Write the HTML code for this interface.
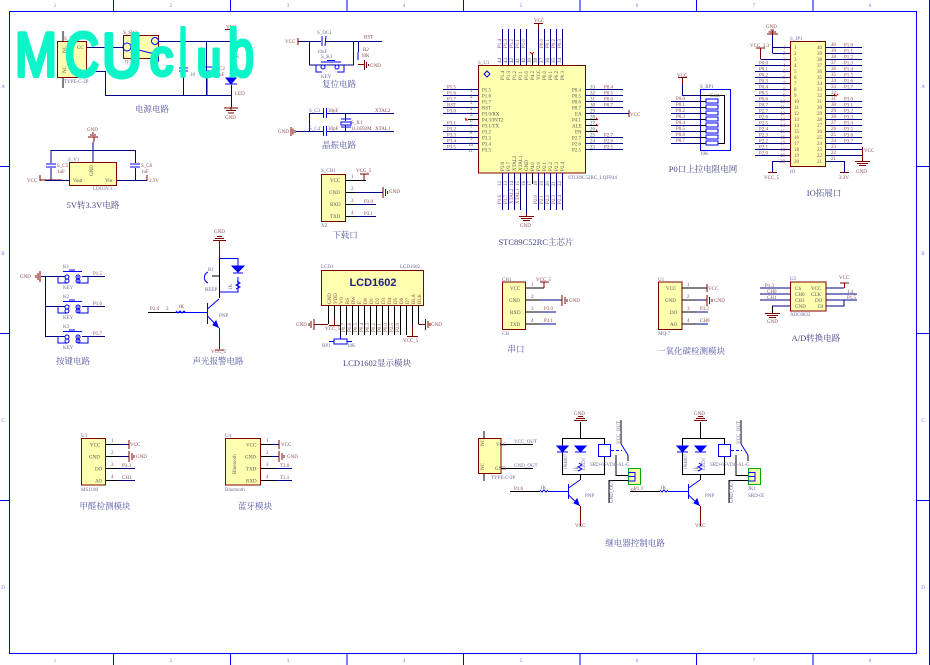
<!DOCTYPE html>
<html><head><meta charset="utf-8"><style>
html,body{margin:0;padding:0;background:#fff;width:930px;height:665px;overflow:hidden}
svg{display:block;filter:blur(.35px)}
text{font-family:"Liberation Serif","Noto Serif CJK SC",serif;font-size:5px;fill:#8a4a4a}
.n text,text.n{fill:#6a6a9a}
.t{font-size:8.5px;fill:#5555a5;text-anchor:middle}
.z{fill:#7777ee;font-size:5px;text-anchor:middle}
.d{fill:#555}
path,rect,circle{fill:none}
.w path{stroke:#000088;stroke-width:1}
.m path{stroke:#800000;stroke-width:1}
.k path{stroke:#000;stroke-width:1}
.b path,.b circle{stroke:#0000ff;stroke-width:1}
.c{fill:#ffffb0;stroke:#800000;stroke-width:1}
text.q{font-family:"Liberation Sans",sans-serif;fill:#0cf5c8;stroke:#0cf5c8;stroke-width:4;stroke-linejoin:round;stroke-linecap:round}
</style></head><body>
<svg width="930" height="665" viewBox="0 0 930 665" xmlns="http://www.w3.org/2000/svg">
<rect width="930" height="665" style="fill:#fff"/>
<g class="b"><path style="stroke-width:1" d="M9.5 11.5H916.5V653.5H9.5ZM929.5 0V665M113.5 0V11M230.5 0V11M347 0V11M463.5 0V11M580 0V11M696.5 0V11M813 0V11M113.5 654V665M230.5 654V665M347 654V665M463.5 654V665M580 654V665M696.5 654V665M813 654V665M0 166.5H9M0 333.5H9M0 500.5H9M917 166.5H929M917 333.5H929M917 500.5H929"/></g>
<g><text class="z" x="55" y="7">1</text><text class="z" x="171" y="7">2</text><text class="z" x="288" y="7">3</text><text class="z" x="404" y="7">4</text><text class="z" x="521" y="7">5</text><text class="z" x="637" y="7">6</text><text class="z" x="754" y="7">7</text><text class="z" x="870" y="7">8</text>
<text class="z" x="55" y="662">1</text><text class="z" x="171" y="662">2</text><text class="z" x="288" y="662">3</text><text class="z" x="404" y="662">4</text><text class="z" x="521" y="662">5</text><text class="z" x="637" y="662">6</text><text class="z" x="754" y="662">7</text><text class="z" x="870" y="662">8</text>
<text class="z" x="3" y="88">A</text><text class="z" x="3" y="255">B</text><text class="z" x="3" y="422">C</text><text class="z" x="3" y="589">D</text>
<text class="z" x="923" y="88">A</text><text class="z" x="923" y="255">B</text><text class="z" x="923" y="422">C</text><text class="z" x="923" y="589">D</text></g>

<!-- power -->
<rect class="c" x="57.5" y="41.5" width="29" height="36"/><rect class="c" x="123.5" y="35.5" width="35" height="23"/>
<g class="w"><path d="M87 47.5H123M158 41.5H231M206.5 41V95M183.5 41V68M183.5 71V95M87 71.5H105.5V95.5H232M231.5 85V107M207 71V95"/></g>
<g class="k"><path d="M63 31V41M63 78V88"/></g>
<g class="m"><path d="M225 29.5H236M231 30V72M231 107V110M224 108H238M226 110.5H236M228 113H234"/></g>
<g class="b"><circle cx="127" cy="47" r="4"/><circle cx="155" cy="41" r="3.5"/><circle cx="155" cy="60" r="3.5"/><path d="M130 48L155 54M155 60V71M179 68H188M179 71H188M202 67H212M202 71H212"/><path style="fill:#0000ff" d="M226 78H236L231 84ZM225 84H237"/></g>
<text x="64" y="40">S_T1</text><text x="123" y="34">S_SW1</text><text x="124" y="64">开关</text><text x="64" y="83" class="n">TYPE-C-2P</text><text x="77" y="49" class="d">CC</text><text x="66" y="53" class="d" transform="rotate(-90 66 53)">NC</text><text x="66" y="73" class="d" transform="rotate(-90 66 73)">NC</text>
<text x="226" y="28.5">VCC</text><text x="225" y="119">GND</text><text x="190" y="76" class="n">10</text><text x="219" y="70">C2</text><text x="219" y="76">uF</text><text x="233" y="58">1K</text><text x="235" y="95">LED</text>
<text class="t" x="152" y="112">电源电路</text>

<!-- LDO -->
<rect class="c" x="69.5" y="162.5" width="47" height="23"/>
<g class="m"><path d="M94 142V137M88 137H98M90 135H96M92 133H94M40 175V181M40 180H62M147 180.5V175M147 180.5H147"/></g>
<g class="w"><path d="M51.5 150.5H135.5M93 142V162M51 150V163M135.5 150V163M51 168V180M135.5 168V180M117 180.5H147M45 180.5H70"/></g>
<g class="b"><path d="M46 164H56M46 167H56M130 164H140M130 167H140"/></g>
<text x="87" y="131">GND</text><text x="68" y="161" class="n">S_V1</text><text x="57" y="167">S_C5</text><text x="141" y="167">S_C6</text><text x="57" y="173">1uF</text><text x="141" y="173">1uF</text><text x="27" y="182">VCC</text><text x="149" y="182">3.3V</text><text x="73" y="182" class="d">Vout</text><text x="105" y="182" class="d">Vin</text><text x="93" y="176" class="d" transform="rotate(-90 93 176)">GND</text><text x="93" y="190" class="n">LDO3V3</text>
<text class="t" x="93" y="208" style="fill:#45458a">5V转3.3V电路</text>

<!-- reset -->
<g class="w"><path d="M298 41.5H321M325 41.5H382M309.5 41V65H353.5V41M358.5 41V52"/></g>
<g class="m"><path d="M298 38V45M358 64.5H364M364.5 60V70M366.5 62V68M368.5 64V66"/></g>
<g class="b"><path d="M322 36V46M326 36L325 46M321 62H341M327 60.5H335M358 52V60M316 65V72H322M344 65V72H337"/><circle cx="323" cy="67" r="2"/><circle cx="337" cy="67" r="2"/></g>
<text x="285" y="43">VCC</text><text x="317" y="34" class="n">S_DC1</text><text x="317" y="53" class="n">10uF</text><text x="321" y="58" class="n">S_K1</text><text x="321" y="78" class="n">KEY</text><text x="363" y="51">R2</text><text x="361" y="57">10K</text><text x="364" y="38.500">RST</text><text x="370" y="67">GND</text>
<text class="t" x="339" y="87">复位电路</text>

<!-- crystal -->
<g class="w"><path d="M309 113.500H323M327 113.500H394M296 131.500H323M327 131.500H394M309.500 113V132M345.500 113V121M345.500 125V131"/></g>
<g class="m"><path d="M291 127V136M293 128.500V134.500M295 130V133"/></g>
<g class="b"><path d="M323.500 108V118M326.500 108V118M323.500 126V136M326.500 126V136M341 119H351M341 122H351V125H341ZM341 127H351"/></g>
<text x="278" y="133">GND</text><text x="309" y="112" class="n">S_C3</text><text x="328" y="112">30pF</text><text x="309" y="130" class="n">S_C4</text><text x="328" y="130">30pF</text><text x="351" y="124">S_X1</text><text x="351" y="130">11.0592M</text><text x="375" y="112">XTAL2</text><text x="375" y="130">XTAL1</text>
<text class="t" x="339" y="148">晶振电路</text>

<!-- downloader -->
<rect class="c" x="321.500" y="174.500" width="24" height="47"/>
<g class="k"><path d="M346 180.500H366M346 192.500H383M346 204.500H376M346 216.500H376"/></g>
<g class="w"><path d="M355 192.500H383M355 204.500H376M355 216.500H376"/></g>
<g class="m"><path d="M364 180.500V174M360 174H369M383 187V198M385.500 189V196M387.500 191V194"/></g>
<text x="321" y="172" class="n">S_CH1</text><text x="330" y="182" class="d">VCC</text><text x="329" y="194" class="d">GND</text><text x="330" y="206" class="d">RXD</text><text x="330" y="218" class="d">TXD</text><text x="351" y="178">1</text><text x="351" y="190">2</text><text x="351" y="202">3</text><text x="351" y="214">4</text><text x="356" y="172">VCC_5</text><text x="389" y="193">GND</text><text x="364" y="203">P3.0</text><text x="364" y="215">P3.1</text><text x="321" y="227" class="n">XZ</text>
<text class="t" x="345" y="238">下载口</text>

<!-- MCU -->
<rect class="c" x="478.500" y="65.500" width="107" height="107.500"/>
<g class="w"><path d="M443 89.500H479M443 95.500H479M443 101.500H479M443 107.500H479M443 113.500H479M443 125.500H479M443 131.500H479M443 137.500H479M443 143.500H479M443 149.500H479M585 89.500H623M585 95.500H623M585 101.500H623M585 107.500H623M585 113.500H629M585 137.500H623M585 143.500H623M585 149.500H623M502.500 29V65M508.500 29V65M514.500 29V65M520.500 29V65M526.500 29V65M538.500 24V65M544.500 29V65M550.500 29V65M556.500 29V65M562.500 29V65M502.500 173V210M508.500 173V210M514.500 173V210M520.500 173V210M526.500 173V216M538.500 173V210M544.500 173V210M550.500 173V210M556.500 173V210M562.500 173V210"/></g>
<g class="k"><path d="M532.500 53V65M468 119.500H479M585 119.500H598M585 125.500H598M585 131.500H598M532.500 173V184"/></g>
<g class="m"><path d="M534 23.500H543M538.500 24V30M526.500 216V214M519 216.500H534M521 218.500H532M523 220.500H530M629 110V117"/></g>
<path d="M530 52L532 54L534 52M465 118L467 120L465 120M596 118L598 120M596 124L598 126M596 130L598 132" style="stroke:#e00000"/>
<g class="b"><path d="M484 74L487 71L490 74L487 77Z" style="stroke:#0000ff"/></g>
<g>
<text x="447" y="88.500">P1.5</text><text x="447" y="94.500">P1.6</text><text x="447" y="100.500">P1.7</text><text x="447" y="106.500">RST</text><text x="447" y="112.500">P3.0</text><text x="447" y="124.500">P3.1</text><text x="447" y="130.500">P3.2</text><text x="447" y="136.500">P3.3</text><text x="447" y="142.500">P3.4</text><text x="447" y="148.500">P3.5</text>
<text x="470" y="92" class="d">1</text><text x="470" y="98" class="d">2</text><text x="470" y="104" class="d">3</text><text x="470" y="110" class="d">4</text><text x="470" y="116" class="d">5</text><text x="470" y="122" class="d">6</text><text x="470" y="128" class="d">7</text><text x="470" y="134" class="d">8</text><text x="470" y="140" class="d">9</text><text x="468" y="146" class="d">10</text><text x="468" y="152" class="d">11</text>
<text x="482" y="91.500" class="d">P1.5</text><text x="482" y="97.500" class="d">P1.6</text><text x="482" y="103.500" class="d">P1.7</text><text x="482" y="109.500" class="d">RST</text><text x="482" y="115.500" class="d">P3.0/RX</text><text x="482" y="121.500" class="d">P4.3/INT2</text><text x="482" y="127.500" class="d">P3.1/TX</text><text x="482" y="133.500" class="d">P3.2</text><text x="482" y="139.500" class="d">P3.3</text><text x="482" y="145.500" class="d">P3.4</text><text x="482" y="151.500" class="d">P3.5</text>
<text x="572" y="91.500" class="d">P0.4</text><text x="572" y="97.500" class="d">P0.5</text><text x="572" y="103.500" class="d">P0.6</text><text x="572" y="109.500" class="d">P0.7</text><text x="575" y="115.500" class="d">EA</text><text x="572" y="121.500" class="d">P4.1</text><text x="572" y="127.500" class="d">ALE</text><text x="575" y="133.500" class="d">EN</text><text x="572" y="139.500" class="d">P2.7</text><text x="572" y="145.500" class="d">P2.6</text><text x="572" y="151.500" class="d">P2.5</text>
<text x="590" y="88.500" class="d">33</text><text x="590" y="94.500" class="d">32</text><text x="590" y="100.500" class="d">31</text><text x="590" y="106.500" class="d">30</text><text x="590" y="112.500" class="d">29</text><text x="590" y="118.500" class="d">28</text><text x="590" y="124.500" class="d">27</text><text x="590" y="130.500" class="d">26</text><text x="590" y="136.500" class="d">25</text><text x="590" y="142.500" class="d">24</text><text x="590" y="148.500" class="d">23</text>
<text x="604" y="88.500">P0.4</text><text x="604" y="94.500">P0.5</text><text x="604" y="100.500">P0.6</text><text x="604" y="106.500">P0.7</text><text x="604" y="136.500">P2.7</text><text x="604" y="142.500">P2.6</text><text x="604" y="148.500">P2.5</text><text x="630" y="116">VCC</text>
<text x="478" y="64" class="n">S_U1</text><text x="568" y="179" class="n">STC89C52RC_LQFP44</text>
<text transform="rotate(-90 504 80)" x="504" y="80" class="d">P1.4</text><text transform="rotate(-90 510 80)" x="510" y="80" class="d">P1.3</text><text transform="rotate(-90 516 80)" x="516" y="80" class="d">P1.2</text><text transform="rotate(-90 522 80)" x="522" y="80" class="d">P1.1</text><text transform="rotate(-90 528 80)" x="528" y="80" class="d">P1.0</text><text transform="rotate(-90 534 80)" x="534" y="80" class="d">P4.2</text><text transform="rotate(-90 540 80)" x="540" y="80" class="d">VCC</text><text transform="rotate(-90 546 80)" x="546" y="80" class="d">P0.0</text><text transform="rotate(-90 552 80)" x="552" y="80" class="d">P0.1</text><text transform="rotate(-90 558 80)" x="558" y="80" class="d">P0.2</text><text transform="rotate(-90 564 80)" x="564" y="80" class="d">P0.3</text>
<text transform="rotate(-90 501 48)" x="501" y="48">P1.4</text><text transform="rotate(-90 507 48)" x="507" y="48">P1.3</text><text transform="rotate(-90 513 48)" x="513" y="48">P1.2</text><text transform="rotate(-90 519 48)" x="519" y="48">P1.1</text><text transform="rotate(-90 525 48)" x="525" y="48">P1.0</text><text transform="rotate(-90 543 48)" x="543" y="48">P0.0</text><text transform="rotate(-90 549 48)" x="549" y="48">P0.1</text><text transform="rotate(-90 555 48)" x="555" y="48">P0.2</text><text transform="rotate(-90 561 48)" x="561" y="48">P0.3</text>
<text transform="rotate(-90 501 63)" x="501" y="63" class="d">44</text><text transform="rotate(-90 507 63)" x="507" y="63" class="d">43</text><text transform="rotate(-90 513 63)" x="513" y="63" class="d">42</text><text transform="rotate(-90 519 63)" x="519" y="63" class="d">41</text><text transform="rotate(-90 525 63)" x="525" y="63" class="d">40</text><text transform="rotate(-90 531 63)" x="531" y="63" class="d">39</text><text transform="rotate(-90 537 63)" x="537" y="63" class="d">38</text><text transform="rotate(-90 543 63)" x="543" y="63" class="d">37</text><text transform="rotate(-90 549 63)" x="549" y="63" class="d">36</text><text transform="rotate(-90 555 63)" x="555" y="63" class="d">35</text><text transform="rotate(-90 561 63)" x="561" y="63" class="d">34</text>
<text x="534" y="22">VCC</text><text x="520" y="227">GND</text>
<text transform="rotate(-90 504 171)" x="504" y="171" class="d">P3.6</text><text transform="rotate(-90 510 171)" x="510" y="171" class="d">P3.7</text><text transform="rotate(-90 516 171)" x="516" y="171" class="d">XTAL2</text><text transform="rotate(-90 522 171)" x="522" y="171" class="d">XTAL1</text><text transform="rotate(-90 528 171)" x="528" y="171" class="d">GND</text><text transform="rotate(-90 534 171)" x="534" y="171" class="d">P4.0</text><text transform="rotate(-90 540 171)" x="540" y="171" class="d">P2.0</text><text transform="rotate(-90 546 171)" x="546" y="171" class="d">P2.1</text><text transform="rotate(-90 552 171)" x="552" y="171" class="d">P2.2</text><text transform="rotate(-90 558 171)" x="558" y="171" class="d">P2.3</text><text transform="rotate(-90 564 171)" x="564" y="171" class="d">P2.4</text>
<text transform="rotate(-90 501 186)" x="501" y="186" class="d">12</text><text transform="rotate(-90 507 186)" x="507" y="186" class="d">13</text><text transform="rotate(-90 513 186)" x="513" y="186" class="d">14</text><text transform="rotate(-90 519 186)" x="519" y="186" class="d">15</text><text transform="rotate(-90 525 186)" x="525" y="186" class="d">16</text><text transform="rotate(-90 531 186)" x="531" y="186" class="d">17</text><text transform="rotate(-90 537 186)" x="537" y="186" class="d">18</text><text transform="rotate(-90 543 186)" x="543" y="186" class="d">19</text><text transform="rotate(-90 549 186)" x="549" y="186" class="d">20</text><text transform="rotate(-90 555 186)" x="555" y="186" class="d">21</text><text transform="rotate(-90 561 186)" x="561" y="186" class="d">22</text>
<text transform="rotate(-90 501 204)" x="501" y="204">P3.6</text><text transform="rotate(-90 507 204)" x="507" y="204">P3.7</text><text transform="rotate(-90 513 204)" x="513" y="204">XTAL2</text><text transform="rotate(-90 519 204)" x="519" y="204">XTAL1</text><text transform="rotate(-90 537 204)" x="537" y="204">P2.0</text><text transform="rotate(-90 543 204)" x="543" y="204">P2.1</text><text transform="rotate(-90 549 204)" x="549" y="204">P2.2</text><text transform="rotate(-90 555 204)" x="555" y="204">P2.3</text><text transform="rotate(-90 561 204)" x="561" y="204">P2.4</text>
</g>
<text class="t" x="536" y="245" style="fill:#45458a">STC89C52RC主芯片</text>

<!-- RP1 -->
<g class="w"><path d="M671 101.500H700M671 107.500H700M671 113.500H700M671 119.500H700M671 125.500H700M671 131.500H700M671 137.500H700M671 143.500H700M682.500 77V95.500H700"/></g>
<g class="m"><path d="M678 77.500H687M682.500 77.500V84"/></g>
<g class="b"><path d="M700.500 89.500H730.500V150.500H700.500ZM706 99H718V103H706ZM706 105H718V109H706ZM706 111H718V115H706ZM706 117H718V121H706ZM706 123H718V127H706ZM706 129H718V133H706ZM706 135H718V139H706ZM706 141H718V145H706Z"/></g>
<g class="k"><path d="M700 95.500H724.500V143.500H718M700 101.500H706M700 107.500H706M700 113.500H706M700 119.500H706M700 125.500H706M700 131.500H706M700 137.500H706M700 143.500H706"/></g>
<text x="677" y="77">VCC</text><text x="700" y="88" class="n">S_RP1</text><text x="676" y="100">P0.0</text><text x="676" y="106">P0.1</text><text x="676" y="112">P0.2</text><text x="676" y="118">P0.3</text><text x="676" y="124">P0.4</text><text x="676" y="130">P0.5</text><text x="676" y="136">P0.6</text><text x="676" y="142">P0.7</text><text x="700" y="155" class="n">10K</text><text x="710" y="97" class="d">Com</text>
<text class="t" x="703" y="172" style="fill:#45458a">P0口上拉电阻电网</text>

<!-- IO -->
<rect class="c" x="790.500" y="41.500" width="35" height="125"/>
<g class="w"><path d="M772.500 47.500H790M772.500 53.500H790M772.500 35V53M760.500 59.500H790M755 65.500H790M755 71.500H790M755 77.500H790M755 83.500H790M755 89.500H790M755 95.500H790M755 101.500H790M755 107.500H790M755 113.500H790M755 119.500H790M755 125.500H790M755 131.500H790M755 137.500H790M755 143.500H790M755 149.500H790M755 155.500H790M772.500 161.500H790M772.500 161V172M826 47.500H862M826 53.500H862M826 59.500H862M826 65.500H862M826 71.500H862M826 77.500H862M826 83.500H862M826 89.500H862M826 101.500H862M826 107.500H862M826 113.500H862M826 119.500H862M826 125.500H862M826 131.500H862M826 137.500H862M826 143.500H862M826 149.500H862.500M826 155.500H862.500M826 161.500H844.500V172"/></g>
<g class="k"><path d="M826 95.500H836"/></g>
<path d="M838 94L836 96L834 94" style="stroke:#e00000"/>
<g class="m"><path d="M772.500 35V31M767 34H778M768.500 32H776M770.500 30H774M756 48H765M760.500 48V59M768 172.500H777M840 172.500H849M862.500 147V155M862.500 155V161M855 161.500H870M857 163.500H868M859 165.500H866"/></g>
<text x="750" y="47">VCC_3.3</text><text x="766" y="28">GND</text><text x="790" y="40" class="n">S_JP1</text><text x="764" y="179">VCC_5</text><text x="839" y="179">3.3V</text><text x="864" y="152">VCC</text><text x="856" y="173">GND</text><text x="790" y="173" class="n">IO</text>
<g class="d"><text x="783" y="49">1</text><text x="783" y="55">2</text><text x="783" y="61">3</text><text x="783" y="67">4</text><text x="783" y="73">5</text><text x="783" y="79">6</text><text x="783" y="85">7</text><text x="783" y="91">8</text><text x="783" y="97">9</text><text x="780" y="103">10</text><text x="780" y="109">11</text><text x="780" y="115">12</text><text x="780" y="121">13</text><text x="780" y="127">14</text><text x="780" y="133">15</text><text x="780" y="139">16</text><text x="780" y="145">17</text><text x="780" y="151">18</text><text x="780" y="157">19</text><text x="780" y="163">20</text></g>
<g class="d"><text x="794" y="49">1</text><text x="794" y="55">2</text><text x="794" y="61">3</text><text x="794" y="67">4</text><text x="794" y="73">5</text><text x="794" y="79">6</text><text x="794" y="85">7</text><text x="794" y="91">8</text><text x="794" y="97">9</text><text x="794" y="103">10</text><text x="794" y="109">11</text><text x="794" y="115">12</text><text x="794" y="121">13</text><text x="794" y="127">14</text><text x="794" y="133">15</text><text x="794" y="139">16</text><text x="794" y="145">17</text><text x="794" y="151">18</text><text x="794" y="157">19</text><text x="794" y="163">20</text>
<text x="817" y="49">40</text><text x="817" y="55">39</text><text x="817" y="61">38</text><text x="817" y="67">37</text><text x="817" y="73">36</text><text x="817" y="79">35</text><text x="817" y="85">34</text><text x="817" y="91">33</text><text x="817" y="97">32</text><text x="817" y="103">31</text><text x="817" y="109">30</text><text x="817" y="115">29</text><text x="817" y="121">28</text><text x="817" y="127">27</text><text x="817" y="133">26</text><text x="817" y="139">25</text><text x="817" y="145">24</text><text x="817" y="151">23</text><text x="817" y="157">22</text><text x="817" y="163">21</text>
<text x="831" y="46">40</text><text x="831" y="52">39</text><text x="831" y="58">38</text><text x="831" y="64">37</text><text x="831" y="70">36</text><text x="831" y="76">35</text><text x="831" y="82">34</text><text x="831" y="88">33</text><text x="831" y="94">32</text><text x="831" y="100">31</text><text x="831" y="106">30</text><text x="831" y="112">29</text><text x="831" y="118">28</text><text x="831" y="124">27</text><text x="831" y="130">26</text><text x="831" y="136">25</text><text x="831" y="142">24</text><text x="831" y="148">23</text><text x="831" y="154">22</text><text x="831" y="160">21</text></g>
<g><text x="759" y="64.500">P0.0</text><text x="759" y="70.500">P0.1</text><text x="759" y="76.500">P0.2</text><text x="759" y="82.500">P0.3</text><text x="759" y="88.500">P0.4</text><text x="759" y="94.500">P0.5</text><text x="759" y="100.500">P0.6</text><text x="759" y="106.500">P0.7</text><text x="759" y="112.500">P2.7</text><text x="759" y="118.500">P2.6</text><text x="759" y="124.500">P2.5</text><text x="759" y="130.500">P2.4</text><text x="759" y="136.500">P2.3</text><text x="759" y="142.500">P2.2</text><text x="759" y="148.500">P2.1</text><text x="759" y="154.500">P2.0</text>
<text x="844" y="46.500">P1.0</text><text x="844" y="52.500">P1.1</text><text x="844" y="58.500">P1.2</text><text x="844" y="64.500">P1.3</text><text x="844" y="70.500">P1.4</text><text x="844" y="76.500">P1.5</text><text x="844" y="82.500">P1.6</text><text x="844" y="88.500">P1.7</text><text x="844" y="100.500">P3.0</text><text x="844" y="106.500">P3.1</text><text x="844" y="112.500">P3.2</text><text x="844" y="118.500">P3.3</text><text x="844" y="124.500">P3.4</text><text x="844" y="130.500">P3.5</text><text x="844" y="136.500">P3.6</text><text x="844" y="142.500">P3.7</text></g>
<text class="t" x="824" y="196" style="fill:#45458a">IO拓展口</text>

<!-- keys -->
<g class="w"><path d="M41 276.500H65M82 276.500H105M45.500 276V336.500H65M45 306.500H65M82 306.500H105M82 336.500H105"/></g>
<g class="m"><path d="M40 271V282M38 273V280M36 275V278"/></g>
<g class="b"><path d="M63 271.500H82M69 270H75M63 301.500H82M69 300H75M63 331.500H82M69 330H75M58 276V283H67M78 276V283H88V276M58 306V313H67M78 306V313H88V306M58 336V343H67M78 336V343H88V336"/><circle cx="67" cy="277" r="2"/><circle cx="78" cy="277" r="2"/><circle cx="67" cy="281" r="2"/><circle cx="78" cy="281" r="2"/><circle cx="67" cy="307" r="2"/><circle cx="78" cy="307" r="2"/><circle cx="67" cy="311" r="2"/><circle cx="78" cy="311" r="2"/><circle cx="67" cy="337" r="2"/><circle cx="78" cy="337" r="2"/><circle cx="67" cy="341" r="2"/><circle cx="78" cy="341" r="2"/></g>
<text x="20" y="278">GND</text><text x="63" y="268" class="n">K1</text><text x="63" y="298" class="n">K2</text><text x="63" y="328" class="n">K3</text><text x="63" y="289" class="n">KEY</text><text x="63" y="319" class="n">KEY</text><text x="63" y="349" class="n">KEY</text><text x="93" y="275">P1.5</text><text x="93" y="305">P1.6</text><text x="93" y="335">P1.7</text>
<text class="t" x="73" y="364">按键电路</text>

<!-- beeper -->
<g class="m"><path d="M219.500 240V258M213 240.500H226M215 238.500H224M217 236.500H222M219.500 328V349M215 350H224"/></g>
<g class="k"><path d="M219.500 258V298M219.500 276H212"/></g>
<g class="b"><path d="M219.500 258.500H238V268M238 277V292H219.500M207.500 303V324M176 312.500H207M207.500 309L219 299M207.500 316L219 328M208 272A6 6 0 0 0 208 283"/><path style="fill:#0000ff" d="M232 266H244L238 272ZM233 273H243M218 327L213 325L216 321Z"/><path d="M237 281L240 283L236 285L240 287L236 289"/></g>
<g class="k"><path d="M148 312.500H176"/></g>
<path d="M176 311L178 313L180 311L182 313L184 311L186 313" style="stroke:#0000ff"/>
<text x="150" y="310">P2.4</text><text x="166" y="310">3</text><text x="178" y="308">1K</text><text x="208" y="271" class="n">B1</text><text x="205" y="291" class="n">BEEP</text><text x="232" y="290" class="n" transform="rotate(-90 232 290)">1K</text><text x="219" y="317" class="n">PNP</text><text x="211" y="353">VCC_5</text><text x="214" y="233">GND</text>
<text class="t" x="218" y="364">声光报警电路</text>

<!-- LCD -->
<rect class="c" x="321.500" y="270.500" width="102" height="35"/>
<g class="k"><path d="M328.500 305V324M334.500 305V325M340.500 305V335M346.500 305V335M352.500 305V335M358.500 305V335M364.500 305V335M370.500 305V335M376.500 305V335M382.500 305V335M388.500 305V335M394.500 305V335M400.500 305V335M406.500 305V335M412.500 305V336M418.500 305V324"/></g>
<g class="m"><path d="M314 324.500H328M314 319V330M311 321V328M309 323V326M334.500 318V325M329 325.500H340M418.500 324.500H425M425.500 319V330M428 321V328M430 323V326M412.500 325V336M407 336.500H418"/></g>
<g class="b"><path d="M334 339H347V344H334ZM340.500 335V339M329 341.500H334M347 341.500H352"/></g>
<text x="321" y="268" class="n">LCD1</text><text x="400" y="268" class="n">LCD1602</text>
<text x="373" y="286" style="font-family:'Liberation Sans',sans-serif;font-size:11px;font-weight:bold;fill:#202080;text-anchor:middle">LCD1602</text>
<g class="d"><text transform="rotate(-90 331 304)" x="331" y="304">GND</text><text transform="rotate(-90 337 304)" x="337" y="304">VDD</text><text transform="rotate(-90 343 304)" x="343" y="304">VO</text><text transform="rotate(-90 349 304)" x="349" y="304">RS</text><text transform="rotate(-90 355 304)" x="355" y="304">RW</text><text transform="rotate(-90 361 304)" x="361" y="304">E</text><text transform="rotate(-90 367 304)" x="367" y="304">D0</text><text transform="rotate(-90 373 304)" x="373" y="304">D1</text><text transform="rotate(-90 379 304)" x="379" y="304">D2</text><text transform="rotate(-90 385 304)" x="385" y="304">D3</text><text transform="rotate(-90 391 304)" x="391" y="304">D4</text><text transform="rotate(-90 397 304)" x="397" y="304">D5</text><text transform="rotate(-90 403 304)" x="403" y="304">D6</text><text transform="rotate(-90 409 304)" x="409" y="304">D7</text><text transform="rotate(-90 415 304)" x="415" y="304">BLA</text><text transform="rotate(-90 421 304)" x="421" y="304">BLK</text></g>
<g><text transform="rotate(-90 345 332)" x="345" y="332">P0.7</text><text transform="rotate(-90 351 332)" x="351" y="332">P0.6</text><text transform="rotate(-90 357 332)" x="357" y="332">P0.5</text><text transform="rotate(-90 363 332)" x="363" y="332">P0.4</text><text transform="rotate(-90 369 332)" x="369" y="332">P0.3</text><text transform="rotate(-90 375 332)" x="375" y="332">P0.2</text><text transform="rotate(-90 381 332)" x="381" y="332">P0.1</text><text transform="rotate(-90 387 332)" x="387" y="332">P0.0</text><text transform="rotate(-90 393 332)" x="393" y="332">P2.5</text><text transform="rotate(-90 399 332)" x="399" y="332">P2.6</text></g>
<text x="296" y="326">GND</text><text x="431" y="326">GND</text><text x="325" y="330">VCC_5</text><text x="403" y="342">VCC_5</text><text x="322" y="347" class="n">RP1</text><text x="347" y="347" class="n">10K</text>
<text class="t" x="377" y="366" style="fill:#45458a">LCD1602显示模块</text>

<!-- CH1 -->
<rect class="c" x="502.500" y="282" width="23" height="47.500"/>
<g class="k"><path d="M526 288H544M526 300H562M526 312H556M526 324H556"/></g>
<g class="w"><path d="M540 300H562M540 312H556M540 324H556"/></g>
<g class="m"><path d="M544 288V282M540 282H549M562 295V306M565 297V304M567 299V302"/></g>
<text x="502" y="281" class="n">CH1</text><text x="510" y="290" class="d">VCC</text><text x="509" y="302" class="d">GND</text><text x="510" y="314" class="d">RXD</text><text x="510" y="326" class="d">TXD</text><text x="531" y="286">1</text><text x="531" y="298">2</text><text x="531" y="310">3</text><text x="531" y="322">4</text><text x="536" y="281">VCC_5</text><text x="569" y="302">GND</text><text x="544" y="310">P3.0</text><text x="544" y="322">P3.1</text><text x="502" y="335" class="n">CH</text>
<text class="t" x="516" y="352">串口</text>

<!-- U1 -->
<rect class="c" x="658.500" y="282" width="23.500" height="47.500"/>
<g class="k"><path d="M682 288H707M682 300H707M682 312H708M682 324H708"/></g>
<g class="w"><path d="M696 300H707M696 312H708M696 324H708"/></g>
<g class="m"><path d="M707 284V292M707 295V306M709.500 297V304M712 299V302"/></g>
<text x="658" y="281" class="n">U1</text><text x="666" y="290" class="d">VCC</text><text x="665" y="302" class="d">GND</text><text x="670" y="314" class="d">DO</text><text x="670" y="326" class="d">AO</text><text x="687" y="286">1</text><text x="687" y="298">2</text><text x="687" y="310">3</text><text x="687" y="322">4</text><text x="708" y="290">VCC</text><text x="714" y="302">GND</text><text x="700" y="310">P3.2</text><text x="700" y="322">CH0</text><text x="658" y="335" class="n">MQ-7</text>
<text class="t" x="691" y="354">一氧化碳检测模块</text>

<!-- U2 -->
<rect class="c" x="790.500" y="282" width="35.500" height="29"/>
<g class="w"><path d="M760 288H790M760 294H790M760 300H790M772 306H790M826 288H844M826 294H857M826 300H857M826 306H844V300"/></g>
<g class="k"><path d="M772.500 306V313"/></g>
<g class="m"><path d="M844.500 288V283M840 283H849M765 313.500H780M767 315.500H778M769 317.500H776"/></g>
<text x="790" y="280" class="n">U2</text><text x="795" y="290" class="d">CS</text><text x="795" y="296" class="d">CH0</text><text x="795" y="302" class="d">CH1</text><text x="795" y="308" class="d">GND</text><text x="811" y="290" class="d">VCC</text><text x="811" y="296" class="d">CLK</text><text x="815" y="302" class="d">DO</text><text x="818" y="308" class="d">DI</text><text x="765" y="287">P1.3</text><text x="767" y="293">CH0</text><text x="767" y="299">CH1</text><text x="839" y="279">VCC</text><text x="847" y="293">1.4</text><text x="847" y="299">P1.5</text><text x="767" y="323">GND</text><text x="790" y="316" class="n">ADC0832</text>
<text class="t" x="816" y="341" style="fill:#45458a">A/D转换电路</text>

<!-- U3 -->
<rect class="c" x="81.500" y="438.500" width="24" height="46.500"/>
<g class="k"><path d="M106 444.500H129M106 456.500H129M106 468.500H135M106 480.500H135"/></g>
<g class="w"><path d="M118 444.500H129M118 456.500H129M118 468.500H135M118 480.500H135"/></g>
<g class="m"><path d="M129 440V449M129 451V462M132 453V460M134 455V458"/></g>
<text x="81" y="437" class="n">U3</text><text x="90" y="446.500" class="d">VCC</text><text x="89" y="458.500" class="d">GND</text><text x="95" y="470.500" class="d">DO</text><text x="95" y="482.500" class="d">AO</text><text x="111" y="442">1</text><text x="111" y="454">2</text><text x="111" y="466">3</text><text x="111" y="478">4</text><text x="130" y="446">VCC</text><text x="136" y="458">GND</text><text x="122" y="467">P3.3</text><text x="122" y="479">CH1</text><text x="81" y="491" class="n">MS1100</text>
<text class="t" x="105" y="509">甲醛检测模块</text>

<!-- U4 -->
<rect class="c" x="225.500" y="438.500" width="35" height="46.500"/>
<g class="k"><path d="M261 444.500H279M261 456.500H279M261 468.500H292M261 480.500H292"/></g>
<g class="w"><path d="M272 444.500H279M272 456.500H279M275 468.500H292M275 480.500H292"/></g>
<g class="m"><path d="M279 440V449M279 451V462M282 453V460M284 455V458"/></g>
<text x="225" y="437" class="n">U4</text><text x="246" y="446.500" class="d">VCC</text><text x="245" y="458.500" class="d">GND</text><text x="246" y="470.500" class="d">TXD</text><text x="246" y="482.500" class="d">RXD</text><text x="236" y="474" class="d" transform="rotate(-90 236 474)">Bluetooth</text><text x="266" y="442">1</text><text x="266" y="454">2</text><text x="266" y="466">3</text><text x="266" y="478">4</text><text x="281" y="446">VCC</text><text x="287" y="458">GND</text><text x="280" y="467">T3.0</text><text x="280" y="479">T3.1</text><text x="225" y="491" class="n">Bluetooth</text>
<text class="t" x="255" y="509">蓝牙模块</text>

<!-- relay connector -->
<rect class="c" x="478.500" y="438.500" width="22.500" height="35"/>
<g class="k"><path d="M484 431V438M484 474V481M501 444.500H533M501 468.500H533"/></g>
<text x="484" y="446" class="d" transform="rotate(-90 484 446)">NC</text><text x="484" y="470" class="d" transform="rotate(-90 484 470)">NC</text><text x="496" y="446" class="d">VCC</text><text x="495" y="470" class="d">GND</text><text x="514" y="443" class="n">VCC_OUT</text><text x="514" y="467" class="n">GND_OUT</text><text x="491" y="479" class="n">TYPE-C-2P</text>

<!-- relay 1 -->
<g class="k"><path d="M580.500 422V438M562.500 438.500H604.500M562.500 438V474.500H604.500V456M604.500 438V444M510 491.500H540M580.500 474V480M621 420V444M628 455V461M616 455V475.500H628M609 480.500H628M609 480V503"/></g>
<g class="m"><path d="M574 420.500H587M576 418.500H585M578 416.500H583M580.500 506V526"/></g>
<g class="b"><path d="M598.500 444.500H610.500V456.500H598.500Z"/><path d="M611 450.500H622" style="stroke-dasharray:3 2"/><path d="M621 444L628 455"/><path style="fill:#0000ff" d="M557 446H568L562.500 452ZM557 452H568M575 446H586L580.500 452ZM575 452H586"/><path d="M568.500 484V499M548 491.500H568M568.500 488L580 480M568.500 495L580 506"/><path style="fill:#0000ff" d="M579 505L574 503L577 499Z"/><path d="M579 463L582 465L578 467L582 469L578 471M540 490L542 492L544 490L546 492L548 490"/></g>
<rect x="628.500" y="468.500" width="12" height="16" style="fill:#ffffb0;stroke:#00b000;stroke-width:1"/>
<g class="b"><path d="M628 472.500H635V481H628M628 476.500H635"/></g>
<text x="574" y="415">GND</text><text x="575" y="527">VCC</text><text x="514" y="490">P1.6</text><text x="540" y="489" class="n">1K</text><text x="585" y="497" class="n">PNP</text><text x="590" y="466" class="n">SRD-05VDC-SL-C</text><text x="631" y="492">P1</text><text x="620" y="444" class="n" transform="rotate(-90 620 444)">VCC_OUT</text><text x="613" y="503" class="n" transform="rotate(-90 613 503)">GND_OUT</text><text x="567" y="470" class="n" transform="rotate(-90 567 470)">1N4007</text><text x="585" y="470" class="n" transform="rotate(-90 585 470)">LED1</text><text x="578" y="472" class="n" transform="rotate(-90 578 472)">1K</text>

<!-- relay 2 -->
<g class="k"><path d="M700.500 422V438M682.500 438.500H724.500M682.500 438V474.500H724.500V456M724.500 438V444M630 491.500H660M700.500 474V480M741 420V444M748 455V461M736 455V475.500H748M729 480.500H748M729 480V503"/></g>
<g class="m"><path d="M694 420.500H707M696 418.500H705M698 416.500H703M700.500 506V526"/></g>
<g class="b"><path d="M718.500 444.500H730.500V456.500H718.500Z"/><path d="M731 450.500H742" style="stroke-dasharray:3 2"/><path d="M741 444L748 455"/><path style="fill:#0000ff" d="M677 446H688L682.500 452ZM677 452H688M695 446H706L700.500 452ZM695 452H706"/><path d="M688.500 484V499M668 491.500H688M688.500 488L700 480M688.500 495L700 506"/><path style="fill:#0000ff" d="M699 505L694 503L697 499Z"/><path d="M699 463L702 465L698 467L702 469L698 471M660 490L662 492L664 490L666 492L668 490"/></g>
<rect x="748.500" y="468.500" width="12" height="16" style="fill:#ffffb0;stroke:#00b000;stroke-width:1"/>
<g class="b"><path d="M748 472.500H755V481H748M748 476.500H755"/></g>
<text x="694" y="415">GND</text><text x="695" y="527">VCC</text><text x="634" y="490">P1.3</text><text x="660" y="489" class="n">1K</text><text x="705" y="497" class="n">PNP</text><text x="710" y="466" class="n">SRD-05VDC-SL-C</text><text x="748" y="490" class="n">JK1</text><text x="748" y="497" class="n">SRD-05</text><text x="740" y="444" class="n" transform="rotate(-90 740 444)">VCC_OUT</text><text x="733" y="503" class="n" transform="rotate(-90 733 503)">GND_OUT</text><text x="687" y="470" class="n" transform="rotate(-90 687 470)">1N4007</text><text x="705" y="470" class="n" transform="rotate(-90 705 470)">LED1</text><text x="698" y="472" class="n" transform="rotate(-90 698 472)">1K</text>
<text class="t" x="635" y="546">继电器控制电路</text>

<!-- watermark -->
<g>
<text class="q" x="15" y="76" textLength="42" lengthAdjust="spacingAndGlyphs" style="font-size:62px">M</text>
<text class="q" x="65" y="76" textLength="34" lengthAdjust="spacingAndGlyphs" style="font-size:62px">C</text>
<text class="q" x="102" y="77" textLength="40" lengthAdjust="spacingAndGlyphs" style="font-size:62px">U</text>
<text class="q" x="150" y="75" textLength="23" lengthAdjust="spacingAndGlyphs" style="font-size:50px">c</text>
<text class="q" x="179" y="76" textLength="8" lengthAdjust="spacingAndGlyphs" style="font-size:66px">l</text>
<text class="q" x="197" y="76" textLength="24" lengthAdjust="spacingAndGlyphs" style="font-size:50px">u</text>
<text class="q" x="228" y="76" textLength="26" lengthAdjust="spacingAndGlyphs" style="font-size:66px">b</text>
</g>
</svg>
</body></html>
